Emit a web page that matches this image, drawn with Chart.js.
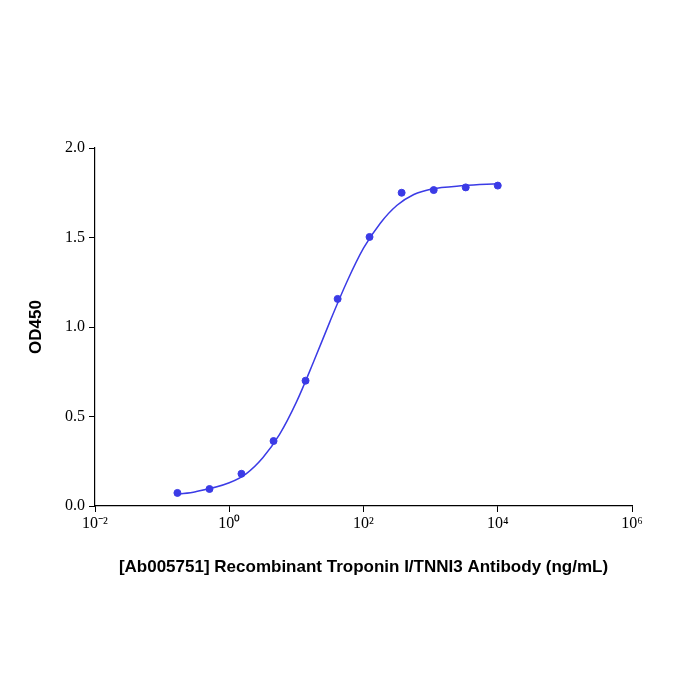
<!DOCTYPE html>
<html><head><script src="https://cdn.jsdelivr.net/npm/chart.js@4"></script>
<style>html,body{margin:0;background:#fff}#w{width:700px;height:700px}</style></head>
<body><div id="w"><canvas id="c"></canvas></div>
<script>
const concentrations=[0.169,0.508,1.52,4.57,13.7,41.2,123,370,1111,3333,10000];
const od450=[0.073,0.095,0.18,0.363,0.70,1.157,1.503,1.75,1.765,1.78,1.79];
const curveX=[0.167,0.316,1,1.78,3.16,5.62,10,17.8,31.6,56.2,100,178,316,562,1000,3162,10000];
const curveY=[0.065,0.08,0.13,0.18,0.27,0.40,0.58,0.80,1.03,1.25,1.44,1.58,1.68,1.74,1.77,1.79,1.80];
const xTicks=[1e-2,1,1e2,1e4,1e6];
const xTickLabels={"0.01":"10⁻²","1":"10⁰","100":"10²","10000":"10⁴","1000000":"10⁶"};
const blue='#3b3be6';
new Chart(document.getElementById('c'),{
 type:'scatter',
 data:{datasets:[
  {data:curveX.map((x,i)=>({x,y:curveY[i]})),showLine:true,pointRadius:0,borderColor:blue,borderWidth:1.5,cubicInterpolationMode:'monotone'},
  {data:concentrations.map((x,i)=>({x,y:od450[i]})),pointRadius:3.5,backgroundColor:blue,borderColor:blue}
 ]},
 options:{responsive:true,maintainAspectRatio:false,animation:false,
  layout:{padding:{left:22,top:148,right:68,bottom:118}},
  plugins:{legend:{display:false},tooltip:{enabled:false}},
  scales:{
   x:{type:'logarithmic',min:1e-2,max:1e6,
    afterBuildTicks:s=>{s.ticks=xTicks.map(v=>({value:v}))},
    afterFit:s=>{s.height=76},
    border:{color:'#000',width:1.2},
    grid:{drawOnChartArea:false,color:'#000',tickLength:6},
    ticks:{color:'#000',font:{family:'Liberation Serif',size:16},maxRotation:0,padding:2,callback:v=>xTickLabels[String(v)]||''},
    title:{display:true,text:'[Ab005751] Recombinant Troponin I/TNNI3 Antibody (ng/mL)',color:'#000',font:{family:'Liberation Sans',size:17,weight:'bold'},padding:{top:14}}},
   y:{min:0,max:2,
    afterFit:s=>{s.width=73},
    border:{color:'#000',width:1.2},
    grid:{drawOnChartArea:false,color:'#000',tickLength:6},
    ticks:{stepSize:0.5,color:'#000',font:{family:'Liberation Serif',size:16},padding:4,callback:v=>v.toFixed(1)},
    title:{display:true,text:'OD450',color:'#000',font:{family:'Liberation Sans',size:17,weight:'bold'},padding:{bottom:8}}}
  }}
});
</script></body></html>
